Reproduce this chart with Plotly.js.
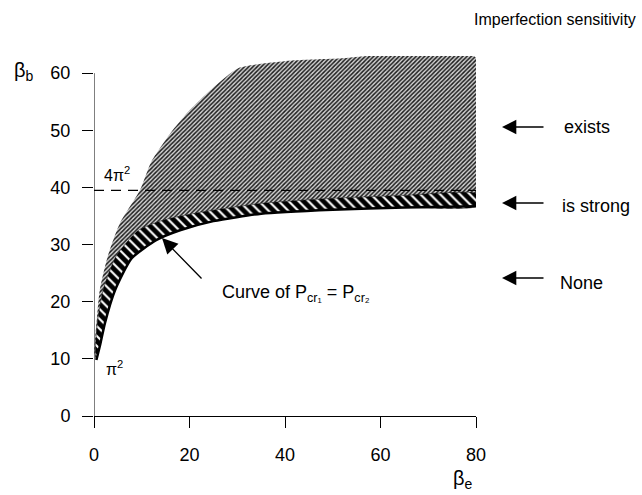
<!DOCTYPE html>
<html>
<head>
<meta charset="utf-8">
<script src="https://cdn.plot.ly/plotly-3.0.1.min.js"></script>
<style>html,body{margin:0;padding:0;background:#fff;}#chart{width:642px;height:495px;}</style>
</head>
<body>
<div id="chart"></div>
<script>
// ---- data ----
// lower edge of the hatched band: curve of Pcr1 = Pcr2
const lowerBetaE = [0.5, 1.3, 2.3, 4.4, 7.9, 13.1, 18, 25, 35, 50, 65, 80];
const lowerBetaB = [9.8, 12.5, 16.3, 22, 27.6, 30.8, 32.5, 34.1, 35.4, 36.1, 36.5, 36.7];
// upper edge of the "is strong" band
const bandTopBetaE = [0.3, 0.7, 1.9, 4.6, 9.3, 14.6, 22, 35, 50, 65, 80];
const bandTopBetaB = [11.5, 16.3, 22, 27.9, 32.5, 34.3, 35.6, 37.2, 38.1, 38.6, 38.9];
// upper boundary of the "exists" region
const upperBetaE = [0.1, 0.6, 1.2, 2.9, 5.4, 9.6, 12, 16, 20, 25, 30.3, 40, 50, 80];
const upperBetaB = [11, 17, 22, 28, 33.7, 39.5, 44.5, 49.5, 53.5, 57.5, 60.9, 62.1, 62.5, 62.7];
// reference line 4π²
const refLineBetaE = [0, 80];
const refLineBetaB = [4 * Math.PI * Math.PI, 4 * Math.PI * Math.PI];
const yTicks = [0, 10, 20, 30, 40, 50, 60];
const xTicks = [0, 20, 40, 60, 80];

// ---- geometry helpers (pixel -> paper) ----
const L = 94, R = 476, T = 56, B = 416;
const px = v => (v - L) / (R - L);
const py = v => (B - v) / (B - T);

const shadeX = [lowerBetaE[0]].concat(upperBetaE, bandTopBetaE.slice().reverse(), [lowerBetaE[0]]);
const shadeY = [lowerBetaB[0]].concat(upperBetaB, bandTopBetaB.slice().reverse(), [lowerBetaB[0]]);
const bandX = lowerBetaE.concat(bandTopBetaE.slice().reverse(), [lowerBetaE[0]]);
const bandY = lowerBetaB.concat(bandTopBetaB.slice().reverse(), [lowerBetaB[0]]);

const traces = [
  {x: shadeX, y: shadeY, type: 'scatter', mode: 'lines', fill: 'toself',
   line: {width: 0, color: 'rgba(0,0,0,0)', shape: 'spline', smoothing: 0.6}, fillcolor: '#8a8a8a',
   fillpattern: {shape: '/', bgcolor: '#d4d4d4', fgcolor: '#1c1c1c', size: 3, solidity: 0.5},
   hoverinfo: 'skip'},
  {x: bandX, y: bandY, type: 'scatter', mode: 'lines', fill: 'toself',
   line: {width: 0.5, color: '#000', shape: 'spline', smoothing: 0.6}, fillcolor: '#111',
   fillpattern: {shape: '\\', bgcolor: '#000', fgcolor: '#fff', size: 7, solidity: 0.3},
   hoverinfo: 'skip'},
  {x: lowerBetaE, y: lowerBetaB, type: 'scatter', mode: 'lines',
   line: {width: 2.5, color: '#000', shape: 'spline', smoothing: 0.6}, hoverinfo: 'skip'},
  {x: refLineBetaE, y: refLineBetaB, type: 'scatter', mode: 'lines',
   line: {width: 1.2, color: '#000', dash: '10px,7px'}, hoverinfo: 'skip'}
];

const txt = (x, y, text, size, extra) => Object.assign({
  xref: 'paper', yref: 'paper', x: px(x), y: py(y), text: text, showarrow: false,
  font: {family: 'Liberation Sans, Arial, sans-serif', size: size, color: '#000'},
  xanchor: 'center', yanchor: 'middle'}, extra || {});
const arr = (x, y, ax, ay, size) => ({
  xref: 'paper', yref: 'paper', x: px(x), y: py(y), ax: ax, ay: ay, text: '',
  showarrow: true, arrowhead: 2, arrowsize: size, arrowwidth: 1.3, arrowcolor: '#000'});

const layout = {
  width: 642, height: 495,
  margin: {l: L, r: 642 - R, t: T, b: 495 - B},
  paper_bgcolor: '#fff', plot_bgcolor: '#fff',
  showlegend: false,
  font: {family: 'Liberation Sans, Arial, sans-serif', size: 18, color: '#000'},
  xaxis: {range: [0, 80], tickvals: xTicks, ticks: 'outside', ticklen: 11, tickwidth: 1,
          tickcolor: '#000', showline: true, linecolor: '#000', linewidth: 1,
          showgrid: false, zeroline: false, ticklabelstandoff: 11,
          tickfont: {size: 18}},
  yaxis: {range: [0, 63], tickvals: yTicks, ticks: 'outside', ticklen: 11, tickwidth: 1,
          tickcolor: '#000', showline: false, showgrid: false, zeroline: false,
          ticklabelstandoff: 8, tickfont: {size: 18}},
  shapes: [
    {type: 'line', xref: 'x', yref: 'y', x0: 0, x1: 0, y0: 0, y1: 60,
     line: {color: '#000', width: 1}}
  ],
  annotations: [
    txt(24, 72, 'β<sub>b</sub>', 20),
    txt(463, 479, 'β<sub>e</sub>', 20),
    txt(117, 174, '4π<sup>2</sup>', 16),
    txt(114, 368, 'π<sup>2</sup>', 16),
    txt(555, 20, 'Imperfection sensitivity', 16),
    txt(562, 127, 'exists', 18, {xanchor: 'left'}),
    txt(560, 206, 'is strong', 18, {xanchor: 'left'}),
    txt(558, 283, 'None', 18, {xanchor: 'left'}),
    txt(220, 293, 'Curve of P<sub>cr₁</sub> = P<sub>cr₂</sub>', 18, {xanchor: 'left'}),
    arr(502, 127, 43, 0, 2.2),
    arr(502, 203, 43, 0, 2.2),
    arr(502, 278, 43, 0, 2.2),
    arr(162, 238, 41, 42, 2.4)
  ]
};

Plotly.newPlot('chart', traces, layout, {displayModeBar: false, staticPlot: true});
</script>
</body>
</html>
